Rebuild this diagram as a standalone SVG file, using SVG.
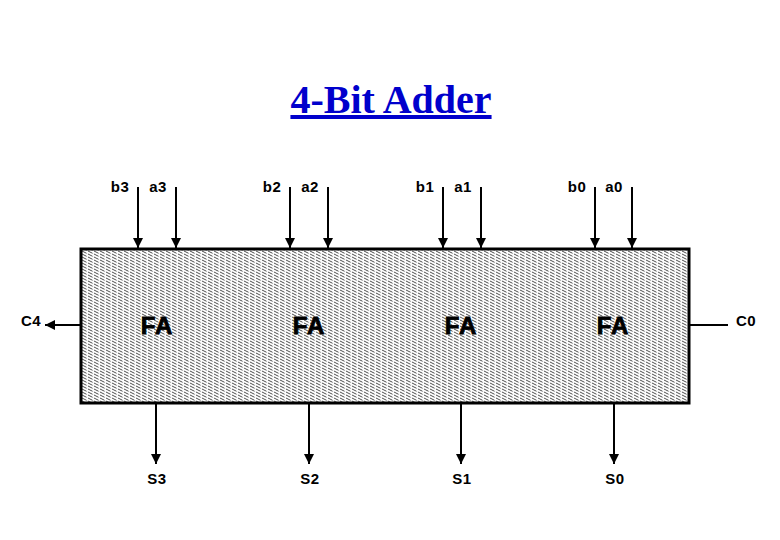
<svg xmlns="http://www.w3.org/2000/svg" width="780" height="540" viewBox="0 0 780 540">
<style>
.t{font-family:"Liberation Sans",Arial,sans-serif;font-weight:bold;font-size:15px;fill:#000;text-anchor:middle;letter-spacing:0.5px}
.fa{font-family:"Liberation Sans",Arial,sans-serif;font-weight:bold;font-size:24px;fill:#000;stroke:#000;stroke-width:0.8;text-anchor:middle;letter-spacing:1px}
.w{stroke:#000;stroke-width:2;fill:none}
.title{font-family:"Liberation Serif","Times New Roman",serif;font-weight:bold;font-size:40px;fill:#0000cc;text-anchor:middle;text-decoration:underline}
</style>
<defs>
<pattern id="hatch" patternUnits="userSpaceOnUse" width="6" height="3">
<rect width="6" height="3" fill="#fff"/>
<path d="M-1,-0.5 L7,3.5 M5,-0.5 L7,0.5 M-1,2.5 L1,3.5" stroke="#000" stroke-width="0.7" stroke-dasharray="4 1.5"/>
</pattern>
<marker id="ah" viewBox="0 0 10 10" refX="10" refY="5" markerWidth="5" markerHeight="5" markerUnits="strokeWidth" orient="auto">
<path d="M0,0 L10,5 L0,10 z" fill="#000"/>
</marker>
</defs>
<rect width="780" height="540" fill="#fff"/>
<text class="title" x="391" y="113">4-Bit Adder</text>
<g id="adder">
<rect x="81" y="249" width="608" height="154" fill="url(#hatch)" stroke="#000" stroke-width="3"/>
</g>
<g id="fa3"><text class="fa" x="157" y="334">FA</text></g>
<g id="fa2"><text class="fa" x="309" y="334">FA</text></g>
<g id="fa1"><text class="fa" x="461" y="334">FA</text></g>
<g id="fa0"><text class="fa" x="613" y="334">FA</text></g>
<g id="labels">
<text class="t" x="120" y="192">b3</text><text class="t" x="158" y="192">a3</text>
<text class="t" x="272" y="192">b2</text><text class="t" x="310" y="192">a2</text>
<text class="t" x="425" y="192">b1</text><text class="t" x="463" y="192">a1</text>
<text class="t" x="577" y="192">b0</text><text class="t" x="614" y="192">a0</text>
<text class="t" x="31" y="326">C4</text>
<text class="t" x="746" y="326">C0</text>
<text class="t" x="157" y="484">S3</text><text class="t" x="310" y="484">S2</text>
<text class="t" x="462" y="484">S1</text><text class="t" x="615" y="484">S0</text>
</g>
<g id="connectors">
<line class="w" x1="138" y1="187" x2="138" y2="248" marker-end="url(#ah)"/>
<line class="w" x1="176" y1="187" x2="176" y2="248" marker-end="url(#ah)"/>
<line class="w" x1="290" y1="187" x2="290" y2="248" marker-end="url(#ah)"/>
<line class="w" x1="328" y1="187" x2="328" y2="248" marker-end="url(#ah)"/>
<line class="w" x1="443" y1="187" x2="443" y2="248" marker-end="url(#ah)"/>
<line class="w" x1="481" y1="187" x2="481" y2="248" marker-end="url(#ah)"/>
<line class="w" x1="595" y1="187" x2="595" y2="248" marker-end="url(#ah)"/>
<line class="w" x1="632" y1="187" x2="632" y2="248" marker-end="url(#ah)"/>
<line class="w" x1="80" y1="325" x2="45" y2="325" marker-end="url(#ah)"/>
<line class="w" x1="690" y1="325" x2="728" y2="325"/>
<line class="w" x1="156" y1="404" x2="156" y2="464" marker-end="url(#ah)"/>
<line class="w" x1="309" y1="404" x2="309" y2="464" marker-end="url(#ah)"/>
<line class="w" x1="461" y1="404" x2="461" y2="464" marker-end="url(#ah)"/>
<line class="w" x1="614" y1="404" x2="614" y2="464" marker-end="url(#ah)"/>
</g>
</svg>
